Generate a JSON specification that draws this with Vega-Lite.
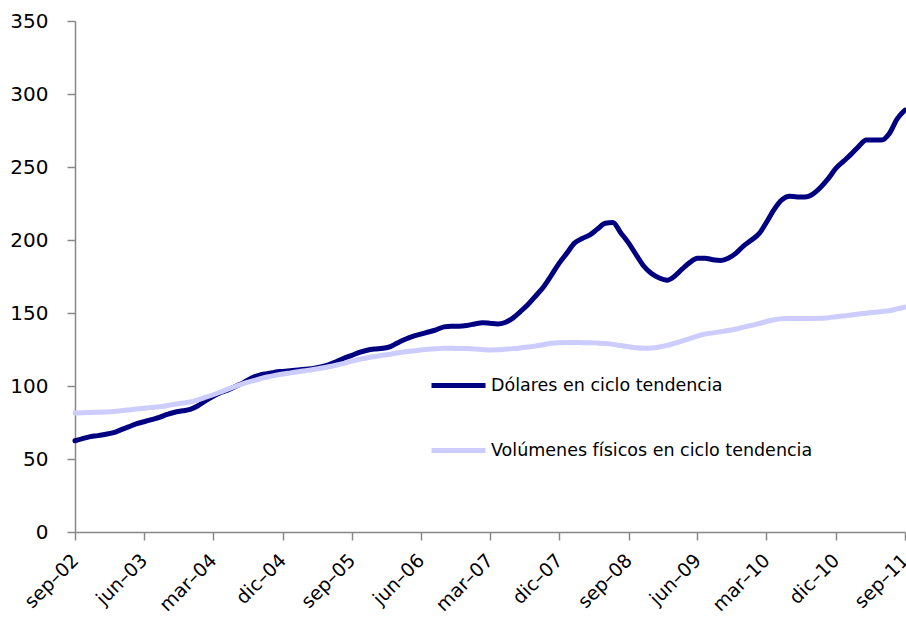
{
  "$schema": "https://vega.github.io/schema/vega-lite/v6.json",
  "width": 830,
  "height": 511,
  "autosize": {"type": "none"},
  "padding": {"left": 75, "top": 21, "right": 1, "bottom": 86},
  "background": "white",
  "config": {
    "view": {"stroke": null},
    "font": "DejaVu Sans",
    "axis": {"grid": false, "domainColor": "#888888", "tickColor": "#888888", "domainWidth": 1.5, "tickWidth": 1.5, "tickSize": 8, "labelColor": "black", "labelFont": "DejaVu Sans", "labelFontSize": 20, "title": null}
  },
  "data": {
    "values": [
      {"f":"2002-09-01","d":62.5,"v":81.5},{"f":"2002-10-01","d":64,"v":81.7},{"f":"2002-11-01","d":65.3,"v":81.9},{"f":"2002-12-01","d":66,"v":82},
      {"f":"2003-01-01","d":67,"v":82.2},{"f":"2003-02-01","d":68,"v":82.5},{"f":"2003-03-01","d":70,"v":83},{"f":"2003-04-01","d":72,"v":83.6},
      {"f":"2003-05-01","d":74,"v":84.2},{"f":"2003-06-01","d":75.5,"v":84.8},{"f":"2003-07-01","d":77,"v":85.3},{"f":"2003-08-01","d":78.5,"v":85.8},
      {"f":"2003-09-01","d":80.5,"v":86.6},{"f":"2003-10-01","d":82,"v":87.5},{"f":"2003-11-01","d":83,"v":88.3},{"f":"2003-12-01","d":84,"v":89},
      {"f":"2004-01-01","d":86.5,"v":90.5},{"f":"2004-02-01","d":90,"v":92.3},{"f":"2004-03-01","d":93,"v":94},{"f":"2004-04-01","d":95.5,"v":96},
      {"f":"2004-05-01","d":97.5,"v":98},{"f":"2004-06-01","d":100,"v":100},{"f":"2004-07-01","d":102.5,"v":101.8},{"f":"2004-08-01","d":105.5,"v":103.3},
      {"f":"2004-09-01","d":107.5,"v":104.8},{"f":"2004-10-01","d":108.5,"v":106.2},{"f":"2004-11-01","d":109.5,"v":107.3},{"f":"2004-12-01","d":110,"v":108.2},
      {"f":"2005-01-01","d":110.5,"v":109},{"f":"2005-02-01","d":111,"v":109.8},{"f":"2005-03-01","d":111.5,"v":110.5},{"f":"2005-04-01","d":112,"v":111.3},
      {"f":"2005-05-01","d":113,"v":112.2},{"f":"2005-06-01","d":114.5,"v":113.2},{"f":"2005-07-01","d":116.5,"v":114.3},{"f":"2005-08-01","d":119,"v":115.5},
      {"f":"2005-09-01","d":121,"v":117},{"f":"2005-10-01","d":123,"v":118.3},{"f":"2005-11-01","d":124.5,"v":119.3},{"f":"2005-12-01","d":125.3,"v":120.2},
      {"f":"2006-01-01","d":125.8,"v":121},{"f":"2006-02-01","d":127,"v":121.8},{"f":"2006-03-01","d":129.5,"v":122.6},{"f":"2006-04-01","d":132,"v":123.4},
      {"f":"2006-05-01","d":134,"v":124},{"f":"2006-06-01","d":135.5,"v":124.6},{"f":"2006-07-01","d":137,"v":125.1},{"f":"2006-08-01","d":138.5,"v":125.5},
      {"f":"2006-09-01","d":140.5,"v":125.8},{"f":"2006-10-01","d":141,"v":125.8},{"f":"2006-11-01","d":141,"v":125.7},{"f":"2006-12-01","d":141.5,"v":125.6},
      {"f":"2007-01-01","d":142.5,"v":125.4},{"f":"2007-02-01","d":143.3,"v":125},{"f":"2007-03-01","d":143,"v":124.7},{"f":"2007-04-01","d":142.5,"v":124.8},
      {"f":"2007-05-01","d":143.5,"v":125.2},{"f":"2007-06-01","d":146.5,"v":125.6},{"f":"2007-07-01","d":151,"v":126.1},{"f":"2007-08-01","d":156,"v":126.7},
      {"f":"2007-09-01","d":162,"v":127.5},{"f":"2007-10-01","d":168,"v":128.3},{"f":"2007-11-01","d":176,"v":129.3},{"f":"2007-12-01","d":184,"v":129.7},
      {"f":"2008-01-01","d":191,"v":129.8},{"f":"2008-02-01","d":198,"v":129.8},{"f":"2008-03-01","d":201,"v":129.7},{"f":"2008-04-01","d":203.5,"v":129.6},
      {"f":"2008-05-01","d":207.5,"v":129.4},{"f":"2008-06-01","d":211.5,"v":129.1},{"f":"2008-07-01","d":212,"v":128.5},{"f":"2008-08-01","d":205,"v":127.7},
      {"f":"2008-09-01","d":198,"v":126.9},{"f":"2008-10-01","d":190,"v":126.2},{"f":"2008-11-01","d":182,"v":125.8},{"f":"2008-12-01","d":177,"v":126},
      {"f":"2009-01-01","d":174,"v":126.7},{"f":"2009-02-01","d":172.5,"v":127.8},{"f":"2009-03-01","d":175,"v":129.2},{"f":"2009-04-01","d":180,"v":130.8},
      {"f":"2009-05-01","d":184.5,"v":132.5},{"f":"2009-06-01","d":187.5,"v":134.2},{"f":"2009-07-01","d":187.5,"v":135.5},{"f":"2009-08-01","d":186.5,"v":136.4},
      {"f":"2009-09-01","d":186,"v":137.2},{"f":"2009-10-01","d":187.5,"v":138},{"f":"2009-11-01","d":191,"v":139},{"f":"2009-12-01","d":196,"v":140.3},
      {"f":"2010-01-01","d":200,"v":141.6},{"f":"2010-02-01","d":204.5,"v":142.8},{"f":"2010-03-01","d":212,"v":144.2},{"f":"2010-04-01","d":221,"v":145.4},
      {"f":"2010-05-01","d":227.5,"v":146},{"f":"2010-06-01","d":230,"v":146.2},{"f":"2010-07-01","d":229.5,"v":146.3},{"f":"2010-08-01","d":229.5,"v":146.3},
      {"f":"2010-09-01","d":231.5,"v":146.3},{"f":"2010-10-01","d":236,"v":146.4},{"f":"2010-11-01","d":242,"v":146.8},{"f":"2010-12-01","d":249,"v":147.4},
      {"f":"2011-01-01","d":254,"v":148},{"f":"2011-02-01","d":259,"v":148.6},{"f":"2011-03-01","d":264,"v":149.3},{"f":"2011-04-01","d":268.5,"v":149.9},
      {"f":"2011-05-01","d":268.5,"v":150.5},{"f":"2011-06-01","d":268.5,"v":151},{"f":"2011-07-01","d":273,"v":151.6},{"f":"2011-08-01","d":283,"v":152.8},
      {"f":"2011-09-01","d":289,"v":154}
    ]
  },
  "transform": [
    {"fold": ["d", "v"], "as": ["k", "valor"]},
    {"lookup": "k", "from": {"data": {"values": [{"k": "d", "serie": "Dólares en ciclo tendencia"}, {"k": "v", "serie": "Volúmenes físicos en ciclo tendencia"}]}, "key": "k", "fields": ["serie"]}}
  ],
  "mark": {"type": "line", "strokeWidth": 5, "strokeCap": "round", "strokeJoin": "round", "interpolate": "monotone"},
  "encoding": {
    "x": {
      "field": "f", "type": "temporal",
      "scale": {"type": "utc", "domain": [{"year": 2002, "month": 9, "date": 1, "utc": true}, {"year": 2011, "month": 9, "date": 1, "utc": true}], "nice": false},
      "axis": {
        "values": [
          {"year": 2002, "month": 9, "date": 1, "utc": true},
          {"year": 2003, "month": 6, "date": 1, "utc": true},
          {"year": 2004, "month": 3, "date": 1, "utc": true},
          {"year": 2004, "month": 12, "date": 1, "utc": true},
          {"year": 2005, "month": 9, "date": 1, "utc": true},
          {"year": 2006, "month": 6, "date": 1, "utc": true},
          {"year": 2007, "month": 3, "date": 1, "utc": true},
          {"year": 2007, "month": 12, "date": 1, "utc": true},
          {"year": 2008, "month": 9, "date": 1, "utc": true},
          {"year": 2009, "month": 6, "date": 1, "utc": true},
          {"year": 2010, "month": 3, "date": 1, "utc": true},
          {"year": 2010, "month": 12, "date": 1, "utc": true},
          {"year": 2011, "month": 9, "date": 1, "utc": true}
        ],
        "labelExpr": "['ene','feb','mar','abr','may','jun','jul','ago','sep','oct','nov','dic'][utcmonth(datum.value)] + '–' + utcFormat(datum.value, '%y')",
        "labelAngle": -45,
        "labelFontSize": 19,
        "labelAlign": "right",
        "labelBaseline": "middle",
        "labelPadding": 17,
        "labelOverlap": false,
        "labelBound": false,
        "labelFlush": false
      }
    },
    "y": {
      "field": "valor", "type": "quantitative",
      "scale": {"domain": [0, 350], "nice": false},
      "axis": {"values": [0, 50, 100, 150, 200, 250, 300, 350], "labelPadding": 19}
    },
    "color": {
      "field": "serie", "type": "nominal",
      "scale": {"domain": ["Dólares en ciclo tendencia", "Volúmenes físicos en ciclo tendencia"], "range": ["#000080", "#CCCCFF"]},
      "legend": {
        "title": null, "orient": "none", "legendX": 354, "legendY": 335,
        "symbolType": "stroke", "symbolSize": 2916, "symbolStrokeWidth": 5,
        "labelFontSize": 17.5, "labelFont": "DejaVu Sans", "labelColor": "black", "labelOffset": 3, "rowPadding": 25, "labelLimit": 500
      }
    }
  }
}
